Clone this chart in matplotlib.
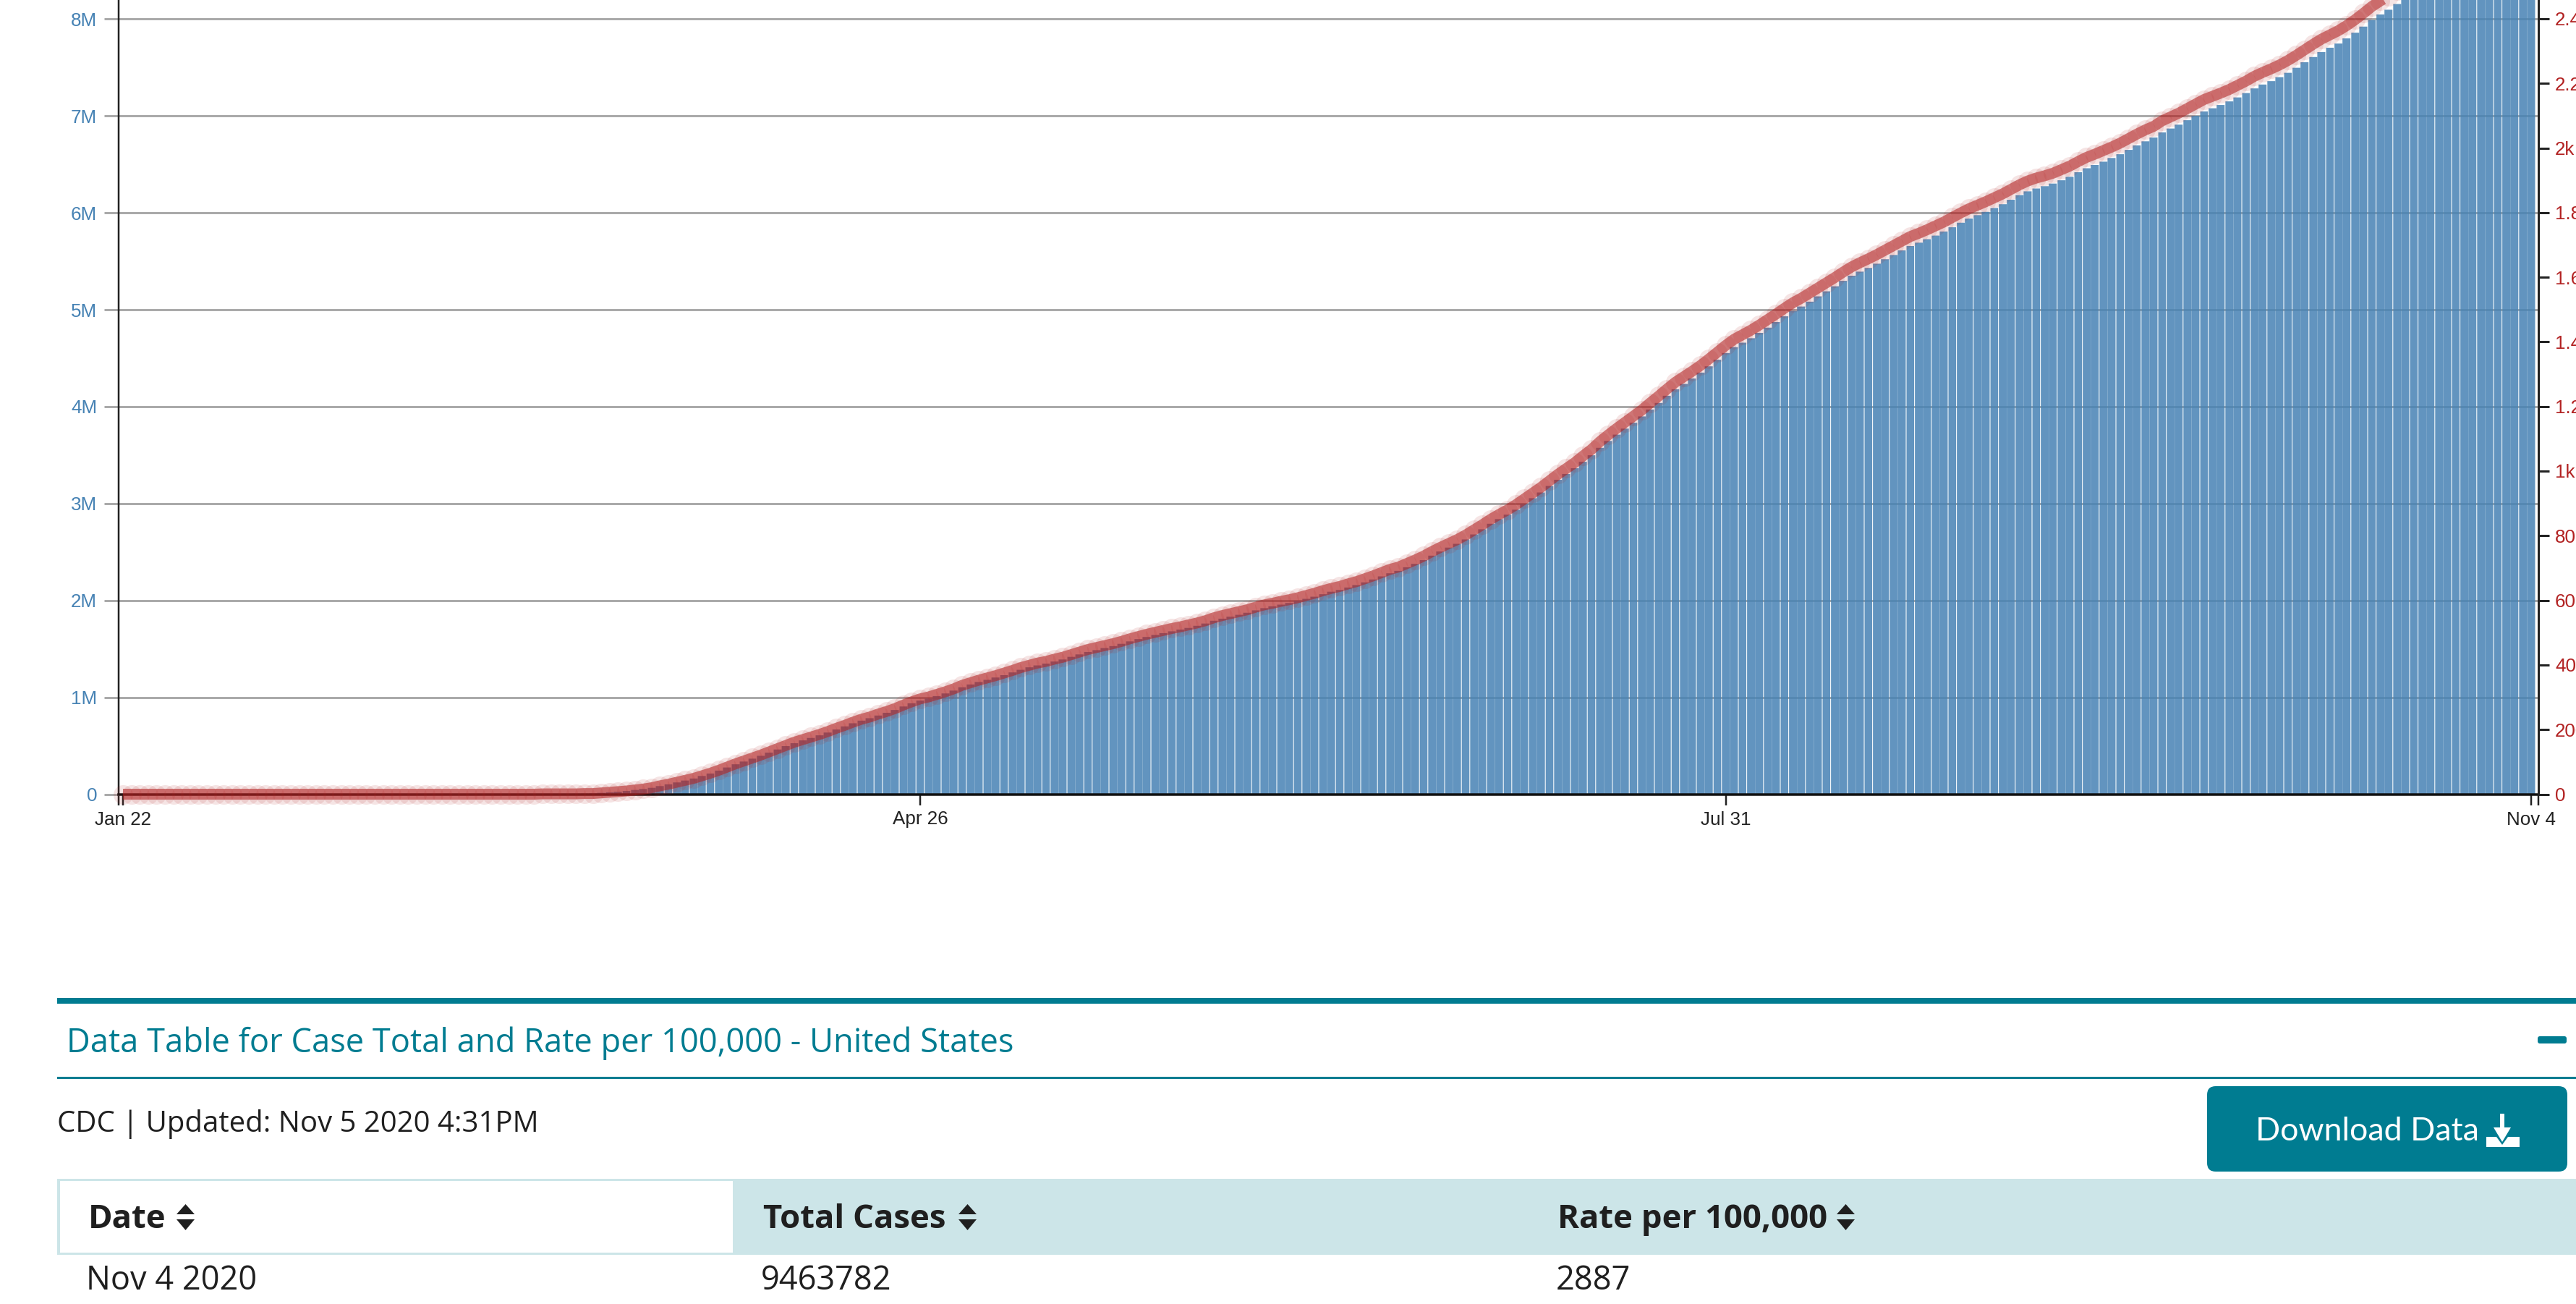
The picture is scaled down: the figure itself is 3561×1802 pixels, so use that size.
import numpy as np
import matplotlib
matplotlib.use("Agg")
import matplotlib.pyplot as plt
from matplotlib.patches import Rectangle, FancyBboxPatch, Polygon

# ---- data ----
total_cases = [
    1,1,1,2,5,5,5,5,6,7,8,8,11,11,11,11,12,12,12,12,12,13,13,14,14,15,15,15,15,25,25,25,30,53,53,57,60,60,63,
    74,98,118,149,217,262,402,518,583,959,1281,1663,2179,2727,3499,4632,6421,7783,13677,19100,25489,33276,43847,53740,65778,83836,101657,121465,140909,161837,188172,
    213372,243453,275586,308850,337072,366667,396223,429052,461437,496535,526396,555313,580619,607670,636350,667592,699706,732197,759086,784326,811865,840351,869170,905358,938154,965785,988197,1012582,1039909,1069424,
    1103461,1132539,1158040,1180375,1204351,1228603,1256972,1283929,1309550,1329260,1347881,1369376,1390406,1417774,1442824,1467820,1486757,1508308,1528568,1551853,1577147,1600937,1622670,1643246,1662302,1680913,1699176,1716078,1737950,1761503,1790172,
    1811370,1831821,1851520,1872660,1897380,1920061,1938823,1956421,1973797,1994283,2016027,2038344,2064000,2089701,2108000,2133000,2158000,2186000,2216000,2248000,2280000,2305000,2342000,2377000,2416000,2462000,2505000,2545000,2584000,2629000,
    2681000,2734000,2791000,2839000,2885000,2936000,2996000,3055000,3114000,3181000,3245000,3305000,3364000,3431000,3498000,3575000,3646000,3711000,3773000,3834000,3899000,3970000,4038000,4112000,4179000,4234000,4290000,4351000,4416000,4484000,4553000,
    4614000,4660000,4706000,4761000,4815000,4873000,4932000,4987000,5033000,5083000,5138000,5190000,5242000,5298000,5351000,5393000,5431000,5475000,5521000,5565000,5612000,5657000,5692000,5728000,5765000,5807000,5851000,5898000,5941000,5976000,6010000,
    6050000,6089000,6135000,6183000,6222000,6251000,6275000,6302000,6336000,6372000,6419000,6460000,6494000,6528000,6566000,6605000,6650000,6696000,6738000,6777000,6830000,6870000,6910000,6956000,7001000,7046000,7079000,7113000,7150000,7191000,
    7236000,7284000,7324000,7359000,7400000,7445000,7497000,7554000,7608000,7659000,7704000,7747000,7800000,7859000,7922000,7990000,8047000,8096000,8155000,8216000,8278000,8349000,8432000,8516000,8574000,8641000,8712000,8790000,8878000,8976000,9060000,
    9130000,9210000,9340000,9463782,
]
rate_per_100k = [
    0,0,0,0,0,0,0,0,0,0,0,0,0,0,0,0,0,0,0,0,0,0,0,0,0,0,0,0,0,0,0,0,0,0,0,0,0,0,0,
    0,0,0,0,0,0,0,0,0,0,0,1,1,1,1,1,2,2,4,6,8,10,13,16,20,26,31,37,43,49,57,
    65,74,84,94,103,112,121,131,141,151,161,169,177,185,194,204,213,223,232,239,248,256,265,276,286,295,301,309,317,326,
    337,345,353,360,367,375,383,392,399,406,411,418,424,432,440,448,454,460,466,473,481,488,495,501,507,513,518,524,530,537,546,
    553,559,565,571,579,586,591,597,602,608,615,622,630,637,643,651,658,667,676,686,696,703,714,725,737,751,764,776,788,802,
    818,834,851,866,880,896,914,932,950,970,990,1008,1026,1047,1067,1091,1112,1132,1151,1170,1189,1211,1232,1254,1275,1292,1309,1327,1347,1368,1389,
    1408,1422,1436,1452,1469,1486,1504,1521,1535,1551,1567,1583,1599,1616,1632,1645,1657,1670,1684,1698,1712,1726,1736,1747,1759,1771,1785,1799,1812,1823,1834,
    1846,1858,1872,1886,1898,1907,1914,1922,1933,1944,1958,1971,1981,1992,2003,2015,2029,2043,2056,2067,2084,2096,2108,2122,2136,2150,2160,2170,2181,2194,
    2207,2222,2234,2245,2257,2271,2287,2304,2321,2337,2350,2363,2379,2397,2417,2438,2455,2470,2488,2506,2525,2547,2573,2598,2616,2636,2658,2681,2708,2738,2764,
    2785,2809,2849,2887,
]
x_tick_days = [0, 95, 191, 287]
x_tick_labels = ["Jan 22", "Apr 26", "Jul 31", "Nov 4"]
left_ticks = [0, 1e6, 2e6, 3e6, 4e6, 5e6, 6e6, 7e6, 8e6]
left_labels = ["0", "1M", "2M", "3M", "4M", "5M", "6M", "7M", "8M"]
right_ticks = [0, 200, 400, 600, 800, 1000, 1200, 1400, 1600, 1800, 2000, 2200, 2400]
right_labels = ["0", "200", "400", "600", "800", "1k", "1.2k", "1.4k", "1.6k", "1.8k", "2k", "2.2k", "2.4k"]

W, H = 3562, 1802
px = 0.72
plt.rcParams["font.family"] = ["Liberation Sans", "DejaVu Sans"]
fig = plt.figure(figsize=(W / 100, H / 100), dpi=100, facecolor="white")

AX_L, AX_R, AX_B = 164.2, 3509, 1097.5
ax = fig.add_axes([AX_L / W, 1 - AX_B / H, (AX_R - AX_L) / W, AX_B / H])
days = np.arange(len(total_cases))
per_day = 11.6
xmax = (AX_R - 170) / per_day
ax.set_xlim(-0.5, xmax)
ax.set_ylim(0, AX_B / 133.9 * 1e6)

# bars: the source's pixel snapping leaves a white hairline at some boundaries only
def has_gap(k):
    return (k % 5) in ((0, 2, 4) if k <= 190 else (0, 2, 3))
G = 0.045
lefts = np.array([d - 0.5 + (G if d > 0 and has_gap(d - 1) else 0) for d in days])
rights = np.array([d + 0.5 - (G if has_gap(d) else 0) for d in days])
bars = ax.bar(lefts, total_cases, width=rights - lefts, align="edge", color="#4682b4", alpha=0.85, linewidth=0, zorder=2)
for b in bars:
    b.set_snap(False)

ax.yaxis.grid(True, color="#aaaaaa", lw=3 * px, zorder=1)
ax.set_axisbelow(True)
ax.set_yticks(left_ticks)
ax.set_yticklabels(left_labels)
ax.tick_params(axis="y", length=20 * px, width=3 * px, color="#aaaaaa", pad=10 * px, labelsize=26 * px, labelcolor="#4682b4")
ax.get_yticklines()[0].set_color("#111111")
ax.set_xticks([-0.5] + x_tick_days + [xmax])
ax.set_xticklabels([""] + x_tick_labels + [""])
ax.tick_params(axis="x", length=15 * px, width=2.5 * px, color="#222222", pad=8 * px, labelsize=26 * px, labelcolor="#222222")
for s in ("top", "right"):
    ax.spines[s].set_visible(False)
ax.spines["left"].set_linewidth(2.5 * px)
ax.spines["left"].set_color("#222222")
ax.spines["bottom"].set_linewidth(3.5 * px)
ax.spines["bottom"].set_color("#111111")

ax2 = ax.twinx()
ax2.patch.set_visible(False)
ax2.set_ylim(0, AX_B / 0.4465)
ax2.plot(days, rate_per_100k, color="#b22222", lw=15 * px, alpha=0.57, solid_capstyle="butt", solid_joinstyle="round", clip_on=False, zorder=4)
ax2.plot(days, rate_per_100k, ls="none", marker="o", ms=27 * px, mfc="#b22222", mew=0, alpha=0.12, clip_on=False, zorder=3)
ax2.set_yticks(right_ticks)
ax2.set_yticklabels(right_labels)
ax2.tick_params(axis="y", length=15 * px, width=3 * px, color="#222222", pad=8 * px, labelsize=26 * px, labelcolor="#b22222")
for s in ("top", "left", "bottom"):
    ax2.spines[s].set_visible(False)
ax2.spines["right"].set_linewidth(3 * px)
ax2.spines["right"].set_color("#222222")
ax2.get_yticklines()[0].set_color("#111111")

# page furniture below the chart, in pixel coordinates
pg = fig.add_axes([0, 0, 1, 1], zorder=5)
pg.set_xlim(0, W); pg.set_ylim(H, 0); pg.axis("off"); pg.patch.set_visible(False)
TEAL = "#007c91"
HDR = "#cce5e8"
INK = "#1f1f1f"
pg.add_patch(Rectangle((79, 1379), W - 79, 8, color=TEAL, lw=0))
pg.add_patch(Rectangle((79, 1488), W - 79, 3, color=TEAL, lw=0))
pg.text(92, 1436, "Data Table for Case Total and Rate per 100,000 - United States", family="Open Sans", fontsize=45.3 * px, color=TEAL, va="center_baseline")
pg.add_patch(FancyBboxPatch((3510, 1434), 36, 6, boxstyle="round,pad=2,rounding_size=3", color=TEAL, lw=0))
pg.text(79, 1549, "CDC | Updated: Nov 5 2020 4:31PM", family="Open Sans", fontsize=40.1 * px, color=INK, va="center_baseline")
pg.add_patch(FancyBboxPatch((3061, 1511), 478, 98, boxstyle="round,pad=10,rounding_size=12", color=TEAL, lw=0))
pg.text(3118, 1560, "Download Data", family="Lato", fontsize=44.8 * px, color="white", va="center_baseline")
# download icon
pg.add_patch(Rectangle((3456, 1539), 6, 26, color="white", lw=0))
pg.add_patch(Polygon([[3447, 1558], [3471, 1558], [3459, 1578]], color="white", lw=0))
pg.add_patch(Polygon([[3437, 1571], [3451, 1571], [3459, 1582], [3467, 1571], [3483, 1571], [3483, 1585], [3437, 1585]], color="white", lw=0))

pg.add_patch(Rectangle((79, 1629), W - 79, 105, color=HDR, lw=0))
pg.add_patch(Rectangle((83, 1632), 930, 99, color="white", lw=0))
for x0, label, ix in [(122, "Date", 244), (1055, "Total Cases", 1325), (2153, "Rate per 100,000", 2539)]:
    pg.text(x0, 1680, label, family="Open Sans", weight="bold", fontsize=45.5 * px, color=INK, va="center_baseline")
    pg.add_patch(Polygon([[ix, 1678], [ix + 25, 1678], [ix + 12.5, 1664]], color=INK, lw=0))
    pg.add_patch(Polygon([[ix, 1685], [ix + 25, 1685], [ix + 12.5, 1700]], color=INK, lw=0))
for x0, label in [(119, "Nov 4 2020"), (1052, "9463782"), (2151, "2887")]:
    pg.text(x0, 1765, label, family="Open Sans", fontsize=45.2 * px, color=INK, va="center_baseline")

fig.savefig("out.png", dpi=100, facecolor="white")
